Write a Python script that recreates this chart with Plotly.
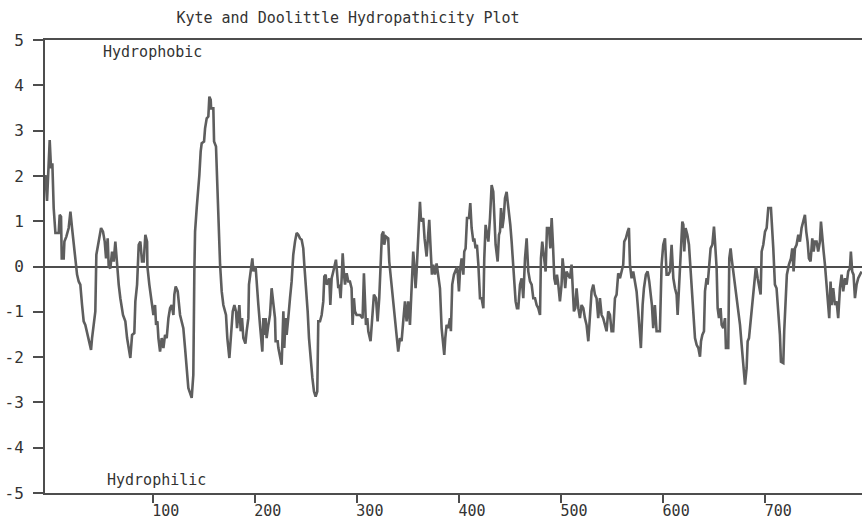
import plotly.graph_objects as go

# Hydropathy profile: (residue position, score)
seg_a = [(-5.1, 2.02), (-3.5, 1.45), (-0.9, 2.79), (0.4, 2.17), (1.7, 2.28), (3.0, 1.29), (4.7, 0.74),
         (7.9, 0.74), (8.9, 1.14), (10.2, 1.10), (10.9, 0.18), (12.8, 0.18), (13.5, 0.55), (15.4, 0.66),
         (17.7, 0.85), (19.4, 1.21), (21.0, 0.85), (22.6, 0.55), (24.2, 0.18), (25.9, -0.18), (27.5, -0.33),
         (29.1, -0.40), (30.8, -0.85), (32.4, -1.21), (34.0, -1.29), (35.7, -1.47), (37.3, -1.65),
         (39.6, -1.84), (40.6, -1.58), (42.2, -1.29), (43.8, -0.99), (44.8, 0.26), (47.1, 0.55), (49.4, 0.85),
         (51.3, 0.77), (53.0, 0.55), (54.3, 0.18), (55.9, 0.62), (56.9, 0.00), (58.5, -0.04), (60.2, 0.33),
         (61.8, 0.11), (63.4, 0.55), (65.1, -0.04), (66.7, -0.40), (68.3, -0.70), (70.9, -1.07), (73.2, -1.21),
         (74.9, -1.58), (78.1, -2.02), (79.8, -1.51), (82.0, -1.47), (83.0, -0.77), (84.7, -0.40), (86.3, 0.48),
         (87.9, 0.55), (89.5, 0.11), (91.2, 0.11), (92.8, 0.70), (94.5, 0.55)]
seg_b = [(94.8, 0.0), (96.7, -0.40), (99.0, -0.85), (100.7, -1.07), (102.3, -0.85), (103.3, -1.29),
         (104.6, -1.21), (105.6, -1.58), (107.2, -1.88), (108.8, -1.58), (110.5, -1.80), (112.1, -1.51),
         (113.7, -1.58), (115.4, -1.14), (117.0, -0.92), (118.6, -0.85), (120.3, -1.07), (121.2, -0.62),
         (122.5, -0.44), (124.5, -0.55), (126.8, -1.07), (130.0, -1.36), (131.7, -1.80), (133.3, -2.24),
         (134.9, -2.68), (138.2, -2.90), (139.8, -2.39), (140.8, -0.11), (141.5, 0.77), (143.1, 1.29),
         (144.7, 1.65), (145.7, 2.02), (147.0, 2.54), (148.0, 2.72), (150.3, 2.76), (151.3, 3.05), (152.9, 3.27),
         (154.5, 3.31), (155.5, 3.75), (156.8, 3.68), (157.2, 3.49), (159.4, 3.49), (160.1, 2.76), (162.0, 2.65),
         (163.3, 1.80), (164.3, 0.92), (166.0, 0.04), (167.6, -0.55), (169.2, -0.85), (171.8, -1.07),
         (173.1, -1.58), (175.1, -2.02), (176.4, -1.58), (178.4, -0.99), (180.0, -0.85), (181.6, -0.99),
         (182.6, -1.36), (183.6, -1.07), (184.9, -0.85), (186.2, -1.43), (187.5, -1.14), (188.8, -1.58),
         (190.8, -1.70)]
seg_c = [(192.0, -1.43), (193.7, -1.14), (194.3, -0.40), (195.3, -0.18), (197.6, 0.18), (198.6, -0.11),
         (199.5, -0.04), (200.8, 0.0), (201.8, -0.40), (203.5, -0.85), (205.1, -1.29), (207.4, -1.88),
         (208.4, -1.14), (209.3, -1.51), (210.6, -1.14), (211.6, -1.58), (213.3, -1.29), (214.9, -1.07),
         (216.5, -0.48), (218.2, -0.77), (219.8, -1.14), (220.4, -1.65), (222.4, -1.65), (223.1, -1.80),
         (224.7, -2.02), (226.3, -2.17), (228.0, -0.99), (228.9, -1.80), (230.2, -1.14), (231.2, -1.51),
         (232.8, -1.14), (233.5, -0.85), (234.5, -0.70), (236.1, -0.33), (237.7, 0.26), (239.4, 0.55),
         (241.0, 0.74), (242.6, 0.70), (244.3, 0.62), (245.9, 0.59), (247.5, 0.40), (248.5, 0.04),
         (250.1, -0.40), (251.8, -0.99), (253.1, -1.58), (254.7, -2.10), (256.4, -2.46), (258.0, -2.76),
         (259.6, -2.87), (261.2, -2.76), (262.2, -1.21), (263.9, -1.21), (265.5, -1.07), (267.1, -0.77),
         (268.1, -0.22), (269.4, -0.18), (270.4, -0.40), (272.0, -0.33), (273.0, -0.26), (274.0, -0.85),
         (275.3, -0.26), (276.9, -0.11), (278.6, 0.04), (279.5, 0.15), (280.5, -0.11), (281.8, -0.48),
         (282.8, -0.40), (284.1, -0.70), (285.1, -0.26), (286.1, 0.29), (287.4, -0.18), (288.4, -0.40),
         (290.0, -0.15), (291.6, -0.33)]
seg_d = [(293.2, -0.33), (294.8, -0.48), (295.8, -1.29), (297.1, -0.70), (298.1, -0.99), (299.7, -1.07),
         (303.0, -1.07), (305.6, -1.14), (306.9, -0.15), (308.9, -1.29), (310.2, -1.14), (311.2, -1.43),
         (313.4, -1.65), (315.4, -0.85), (316.7, -0.62), (318.7, -0.70), (320.3, -1.21), (321.9, -0.70),
         (323.2, -0.11), (324.5, 0.70), (325.9, 0.77), (326.8, 0.48), (328.5, 0.66), (330.7, 0.62),
         (331.7, 0.11), (334.0, -0.40), (335.6, -0.70), (337.3, -1.21), (338.9, -1.51), (340.5, -1.88),
         (342.2, -1.58), (343.8, -1.65), (345.4, -1.21), (347.1, -0.77), (348.7, -1.21), (350.3, -0.77),
         (352.0, -1.29), (353.6, -0.55), (355.2, 0.33), (356.2, 0.04), (357.5, -0.48), (358.5, -0.11),
         (359.5, 0.33), (360.8, 0.92), (361.8, 1.43), (362.7, 1.07), (363.7, 0.99), (365.0, 1.07),
         (366.3, 0.62), (368.3, 0.22), (369.6, 0.70), (370.9, 1.03), (371.9, 0.55), (373.5, -0.18),
         (374.8, 0.04), (376.5, -0.18), (378.1, 0.07), (379.7, -0.26), (381.4, -0.48), (383.0, -1.36),
         (384.6, -1.65), (385.6, -1.95), (386.6, -1.58), (387.9, -1.29), (389.5, -1.36), (391.2, -1.14),
         (392.1, -1.43), (393.4, -0.40), (395.1, -0.18), (397.0, -0.04), (398.3, 0.0)]
seg_e = [(400.0, -0.55), (401.0, -0.11), (402.6, 0.18), (404.3, -0.18), (405.2, 0.33), (406.5, 0.40),
         (407.9, 1.07), (409.8, 1.07), (411.1, 1.40), (412.4, 0.85), (414.1, 0.55), (415.0, 0.62),
         (416.3, 0.40), (417.6, 0.48), (419.0, 0.04), (420.6, -0.70), (422.2, -0.70), (423.9, -0.92),
         (424.8, 0.18), (426.1, 0.92), (427.1, 0.77), (428.8, 0.55), (430.4, 1.07), (432.0, 1.80),
         (433.6, 1.65), (434.6, 1.07), (435.9, 0.48), (437.9, 0.11), (439.2, 0.70), (440.2, 0.77),
         (441.2, 1.29), (442.5, 0.85), (443.8, 1.07), (445.1, 1.51), (446.7, 1.65), (447.7, 1.43),
         (449.0, 1.21), (450.3, 0.92), (451.6, 0.55), (453.2, 0.04), (454.2, -0.33), (455.5, -0.77),
         (456.8, -0.92), (458.1, -0.92), (459.8, -0.40), (461.4, -0.26), (463.0, -0.70), (464.7, 0.18),
         (466.3, 0.62), (467.9, -0.11), (469.6, -0.33), (471.2, -0.40), (472.8, -0.70), (474.5, -0.70),
         (476.1, -0.85), (477.7, -0.92), (479.4, -1.07), (480.3, 0.18), (481.6, 0.55), (483.3, 0.18),
         (484.9, -0.11), (486.2, 0.85), (488.2, 0.85), (489.5, 0.40), (490.8, 1.07), (492.1, 0.48),
         (493.4, -0.26), (494.7, -0.40), (496.0, -0.18), (497.3, -0.40)]
seg_f = [(498.9, -0.77), (500.5, -0.40), (501.5, 0.18), (502.8, -0.11), (504.1, -0.48), (505.4, -0.11),
         (507.1, -0.18), (508.7, -0.26), (510.3, 0.04), (511.3, -0.40), (512.6, -0.99), (513.9, -0.92),
         (515.2, -0.48), (516.9, -0.92), (518.5, -1.14), (520.1, -0.85), (521.8, -0.92), (523.4, -1.14),
         (525.0, -1.29), (526.7, -1.65), (528.3, -1.07), (529.9, -0.55), (531.6, -0.40), (533.2, -0.62),
         (534.8, -0.70), (536.4, -1.14), (538.1, -0.70), (539.7, -1.07), (541.3, -1.14), (543.0, -1.29),
         (544.6, -1.43), (546.2, -0.99), (547.9, -1.07), (549.5, -1.43), (551.1, -1.43), (552.8, -0.70),
         (554.4, -0.62), (556.0, -0.15), (557.7, -0.26), (559.3, -0.11), (560.9, 0.04), (561.9, 0.55),
         (563.5, 0.62), (565.2, 0.77), (566.5, 0.85), (567.5, 0.04), (569.1, -0.26), (570.7, -0.11),
         (572.4, -0.40), (574.0, -0.55), (575.6, -0.99), (577.3, -1.51), (578.2, -1.80), (579.9, -0.85),
         (581.2, -0.48), (583.1, -0.18), (584.8, -0.11), (586.4, -0.33), (587.7, -0.55), (589.0, -0.85),
         (590.3, -1.36), (591.9, -0.85), (593.6, -1.43), (595.2, -1.43), (596.8, -1.43), (598.5, 0.04),
         (600.1, 0.48)]
seg_g = [(601.8, 0.62), (603.4, -0.18), (605.1, -0.18), (606.7, -0.11), (608.3, 0.48), (610.0, -0.26),
         (611.6, -0.48), (613.2, -0.62), (614.2, -1.07), (615.5, -0.40), (617.5, 0.48), (618.8, 0.99),
         (619.8, 0.92), (620.7, 0.33), (622.0, 0.85), (623.7, 0.70), (625.3, 0.48), (626.6, 0.04),
         (627.9, -0.55), (629.5, -1.14), (631.2, -1.58), (632.8, -1.73), (634.5, -1.80), (636.1, -1.99),
         (637.1, -1.65), (638.4, -1.51), (640.0, -1.43), (641.0, -0.55), (642.6, -0.26), (643.6, -0.40),
         (644.9, 0.04), (646.5, 0.40), (648.2, 0.48), (649.8, 0.88), (650.8, 0.55), (652.4, -0.04),
         (653.4, -0.92), (654.7, -1.14), (656.3, -0.92), (657.3, -1.29), (658.9, -1.36), (660.6, -1.14),
         (661.5, -1.80), (663.8, -1.80), (664.8, 0.18), (666.1, 0.40), (667.1, 0.18), (668.7, -0.11),
         (670.4, -0.33), (672.0, -0.62), (673.6, -0.99), (675.3, -1.29), (676.9, -1.73), (678.5, -2.17),
         (680.2, -2.61), (681.8, -2.24), (682.8, -1.65), (684.1, -1.58), (686.0, -1.14), (687.7, -0.70),
         (689.0, -0.48), (690.0, -0.18), (690.9, 0.0), (692.6, -0.26), (693.9, -0.40), (695.5, -0.62),
         (696.5, 0.33), (698.1, 0.48), (699.8, 0.77), (701.4, 0.85), (703.0, 1.29), (705.6, 1.29)]
seg_h = [(707.9, 0.40), (709.5, -0.40), (711.1, -0.48), (712.8, -0.99), (714.4, -1.51), (715.4, -2.10),
         (717.7, -2.13), (718.6, -1.43), (719.9, -0.77), (721.2, -0.18), (723.2, 0.04), (725.2, 0.18),
         (726.5, 0.40), (727.8, -0.11), (729.1, 0.40), (730.7, 0.48), (732.4, 0.70), (734.0, 0.55),
         (735.6, 0.85), (737.2, 0.99), (738.9, 1.14), (740.2, 0.77), (741.5, 0.55), (742.8, 0.18),
         (744.4, 0.11), (746.1, 0.62), (747.4, 0.33), (748.7, 0.55), (750.3, 0.55), (751.9, 0.33),
         (753.6, 0.55), (754.6, 0.99), (755.9, 0.55), (757.2, 0.33), (758.5, 0.04), (760.1, -0.40),
         (761.7, -0.77), (762.7, -1.14), (764.0, -0.33), (765.0, -0.85), (766.6, -0.48), (768.3, -0.85),
         (769.9, -0.77), (771.5, -1.14), (773.2, -0.48), (774.8, -0.18), (776.4, -0.55), (778.1, -0.26),
         (779.7, -0.40), (781.3, -0.11), (783.0, -0.04), (783.9, 0.33), (785.2, -0.11), (786.5, -0.18),
         (787.9, -0.70), (789.5, -0.40), (791.1, -0.26), (792.8, -0.18), (794.4, -0.11)]

x_ticks = [100, 200, 300, 400, 500, 600, 700]
y_ticks = [-5, -4, -3, -2, -1, 0, 1, 2, 3, 4, 5]
y_tick_text = ["-5", "-4", "-3", "-2", "-1", "0", "1", "2", "3", "4", "5"]
x_range = [-5.5, 794.8]
y_range = [-5, 5]

profile = seg_a + seg_b + seg_c + seg_d + seg_e + seg_f + seg_g + seg_h
position = [p for p, _ in profile]
hydropathy = [h for _, h in profile]

FONT = "DejaVu Sans Mono"
AXIS = "#4d4d4d"
TEXT = "#333333"
W, H = 862, 520

fig = go.Figure()
fig.add_trace(go.Scatter(x=position, y=hydropathy, mode="lines",
                         line=dict(color="#5e5e5e", width=2.6), hoverinfo="skip"))

fig.update_layout(
    width=W, height=H,
    margin=dict(l=45, r=0, t=40, b=27, autoexpand=False),
    paper_bgcolor="white", plot_bgcolor="white",
    showlegend=False,
    font=dict(family=FONT, size=15, color=TEXT),
    title=dict(text="Kyte and Doolittle Hydropathicity Plot", x=348 / W, xref="container",
               xanchor="center", y=1 - 18 / H, yanchor="middle", automargin=False,
               font=dict(family=FONT, size=15, color=TEXT)),
    xaxis=dict(range=x_range, tickvals=x_ticks, ticks="outside", ticklen=8, tickwidth=2,
               tickcolor=AXIS, showline=True, linecolor=AXIS, linewidth=2, mirror=True,
               showgrid=False, zeroline=False, ticklabelshift=13, ticklabelstandoff=-5,
               automargin=False,
               tickfont=dict(family=FONT, size=15, color=TEXT)),
    yaxis=dict(range=y_range, tickvals=y_ticks, ticktext=y_tick_text, ticks="outside",
               ticklen=10, tickwidth=2, tickcolor=AXIS, showline=True, linecolor=AXIS,
               linewidth=2, showgrid=False, zeroline=True, zerolinecolor=AXIS,
               zerolinewidth=2, ticklabelstandoff=6, automargin=False,
               tickfont=dict(family=FONT, size=16, color=TEXT)),
    annotations=[
        dict(text="Hydrophobic", xref="paper", yref="paper", x=0.0685, y=0.9735,
             xanchor="left", yanchor="middle", showarrow=False,
             font=dict(family=FONT, size=15, color=TEXT)),
        dict(text="Hydrophilic", xref="paper", yref="paper", x=0.0734, y=0.0287,
             xanchor="left", yanchor="middle", showarrow=False,
             font=dict(family=FONT, size=15, color=TEXT)),
    ],
)

# remove the browser's default 8px page margin so the figure fills the window exactly
fig.write_html("out.html", config={"displayModeBar": False},
               post_script="document.body.style.margin='0';document.body.style.overflow='hidden';")
